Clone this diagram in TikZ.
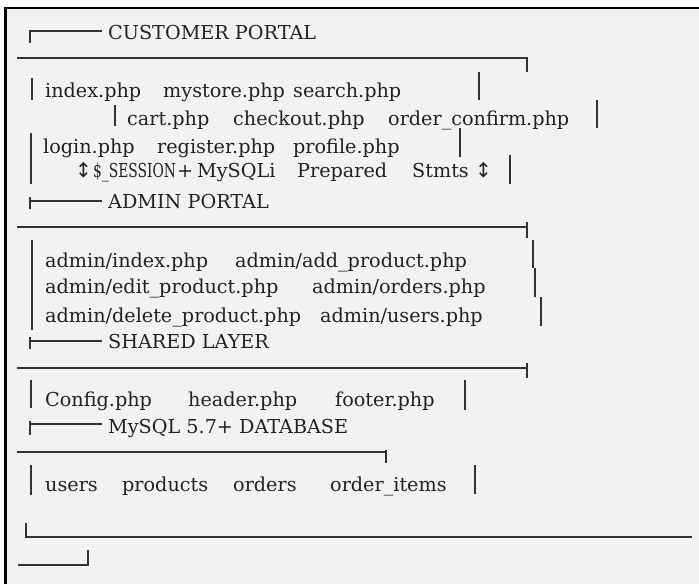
\documentclass[tikz,border=0pt]{standalone}
\usepackage{fontspec}
\setmainfont{DejaVu Serif}
\newfontfamily\arrowfont{DejaVu Sans}
\definecolor{bg}{HTML}{F2F2F2}
\definecolor{tc}{HTML}{222222}
\definecolor{lc}{HTML}{333333}
\begin{document}
\begin{tikzpicture}[x=1pt,y=-1pt,
  txt/.style={font=\fontsize{19.2}{21}\selectfont, text=tc, inner sep=0pt, anchor=base west},
  arr/.style={font=\arrowfont\fontsize{20}{22}\selectfont, text=tc, inner sep=0pt, anchor=base west},
  bx/.style={draw=lc, line width=1.1pt},
  bar/.style={draw=lc, line width=1.3pt}]
\useasboundingbox (0,0) rectangle (699,584);
\fill[white] (0,0) rectangle (699,584);
\fill[bg] (5,7.5) rectangle (699,584);
\draw[black, line width=2.6pt] (5.3,584) -- (5.3,7.8) -- (699,7.8);

% CUSTOMER PORTAL
\draw[bx] (30,43) -- (30,31) -- (102,31);
\node[txt] (cp) at (108,39) {CUSTOMER PORTAL};
\draw[bx] (17,58) -- (527,58) -- (527,72);
\node[txt] (c1) at (45,97) {index.php};
\node[txt] (c2) at (163,97) {mystore.php};
\node[txt] (c3) at (293,97) {search.php};
\draw[bar] (32,78) -- (32,100);
\draw[bar] (479,72) -- (479,100);
\node[txt] (c4) at (127,125) {cart.php};
\node[txt] (c5) at (233,125) {checkout.php};
\node[txt] (c6) at (388,125) {order\_confirm.php};
\draw[bar] (115,105) -- (115,126);
\draw[bar] (597,100) -- (597,128);
\node[txt] (c7) at (43,153) {login.php};
\node[txt] (c8) at (157,153) {register.php};
\node[txt] (c9) at (293,153) {profile.php};
\draw[bar] (31,133) -- (31,184);
\draw[bar] (460,128) -- (460,157);
\node[arr] (a1) at (75,177) {↕};
\node[txt] (s1) at (93,177) {\scalebox{0.72}[1]{\$\_SESSION}};
\node[txt] (s2) at (177,177) {+};
\node[txt] (s3) at (197,177) {MySQLi};
\node[txt] (s4) at (297,177) {Prepared};
\node[txt] (s5) at (412,177) {Stmts};
\node[arr] (a2) at (475,177) {↕};
\draw[bar] (510,155) -- (510,184);

% ADMIN PORTAL
\draw[bx] (30,197) -- (30,209);
\draw[bx] (30,201) -- (102,201);
\node[txt] (ap) at (108,208) {ADMIN PORTAL};
\draw[bx] (17,227) -- (527,227);
\draw[bx] (527,222) -- (527,238);
\node[txt] (d1) at (45,267) {admin/index.php};
\node[txt] (d2) at (235,267) {admin/add\_product.php};
\node[txt] (d3) at (45,293) {admin/edit\_product.php};
\node[txt] (d4) at (312,293) {admin/orders.php};
\node[txt] (d5) at (45,322) {admin/delete\_product.php};
\node[txt] (d6) at (320,322) {admin/users.php};
\draw[bar] (32,240) -- (32,330);
\draw[bar] (533,240) -- (533,268);
\draw[bar] (535,268) -- (535,297);
\draw[bar] (541,297) -- (541,326);

% SHARED LAYER
\draw[bx] (30,337) -- (30,349);
\draw[bx] (30,341) -- (102,341);
\node[txt] (sl) at (108,348) {SHARED LAYER};
\draw[bx] (17,368) -- (527,368);
\draw[bx] (527,363) -- (527,378);
\node[txt] (e1) at (45,406) {Config.php};
\node[txt] (e2) at (188,406) {header.php};
\node[txt] (e3) at (335,406) {footer.php};
\draw[bar] (31,380) -- (31,408);
\draw[bar] (465,380) -- (465,410);

% DATABASE
\draw[bx] (30,421) -- (30,435);
\draw[bx] (30,424) -- (102,424);
\node[txt] (db) at (108,433) {MySQL 5.7+ DATABASE};
\draw[bx] (17,452) -- (386,452);
\draw[bx] (386,450) -- (386,463);
\node[txt] (f1) at (45,491) {users};
\node[txt] (f2) at (122,491) {products};
\node[txt] (f3) at (233,491) {orders};
\node[txt] (f4) at (330,491) {order\_items};
\draw[bar] (31,465) -- (31,495);
\draw[bar] (475,465) -- (475,494);

% bottom
\draw[bx] (26,523) -- (26,537) -- (692,537);
\draw[bx] (18,565) -- (88,565) -- (88,550);
\end{tikzpicture}
\end{document}
